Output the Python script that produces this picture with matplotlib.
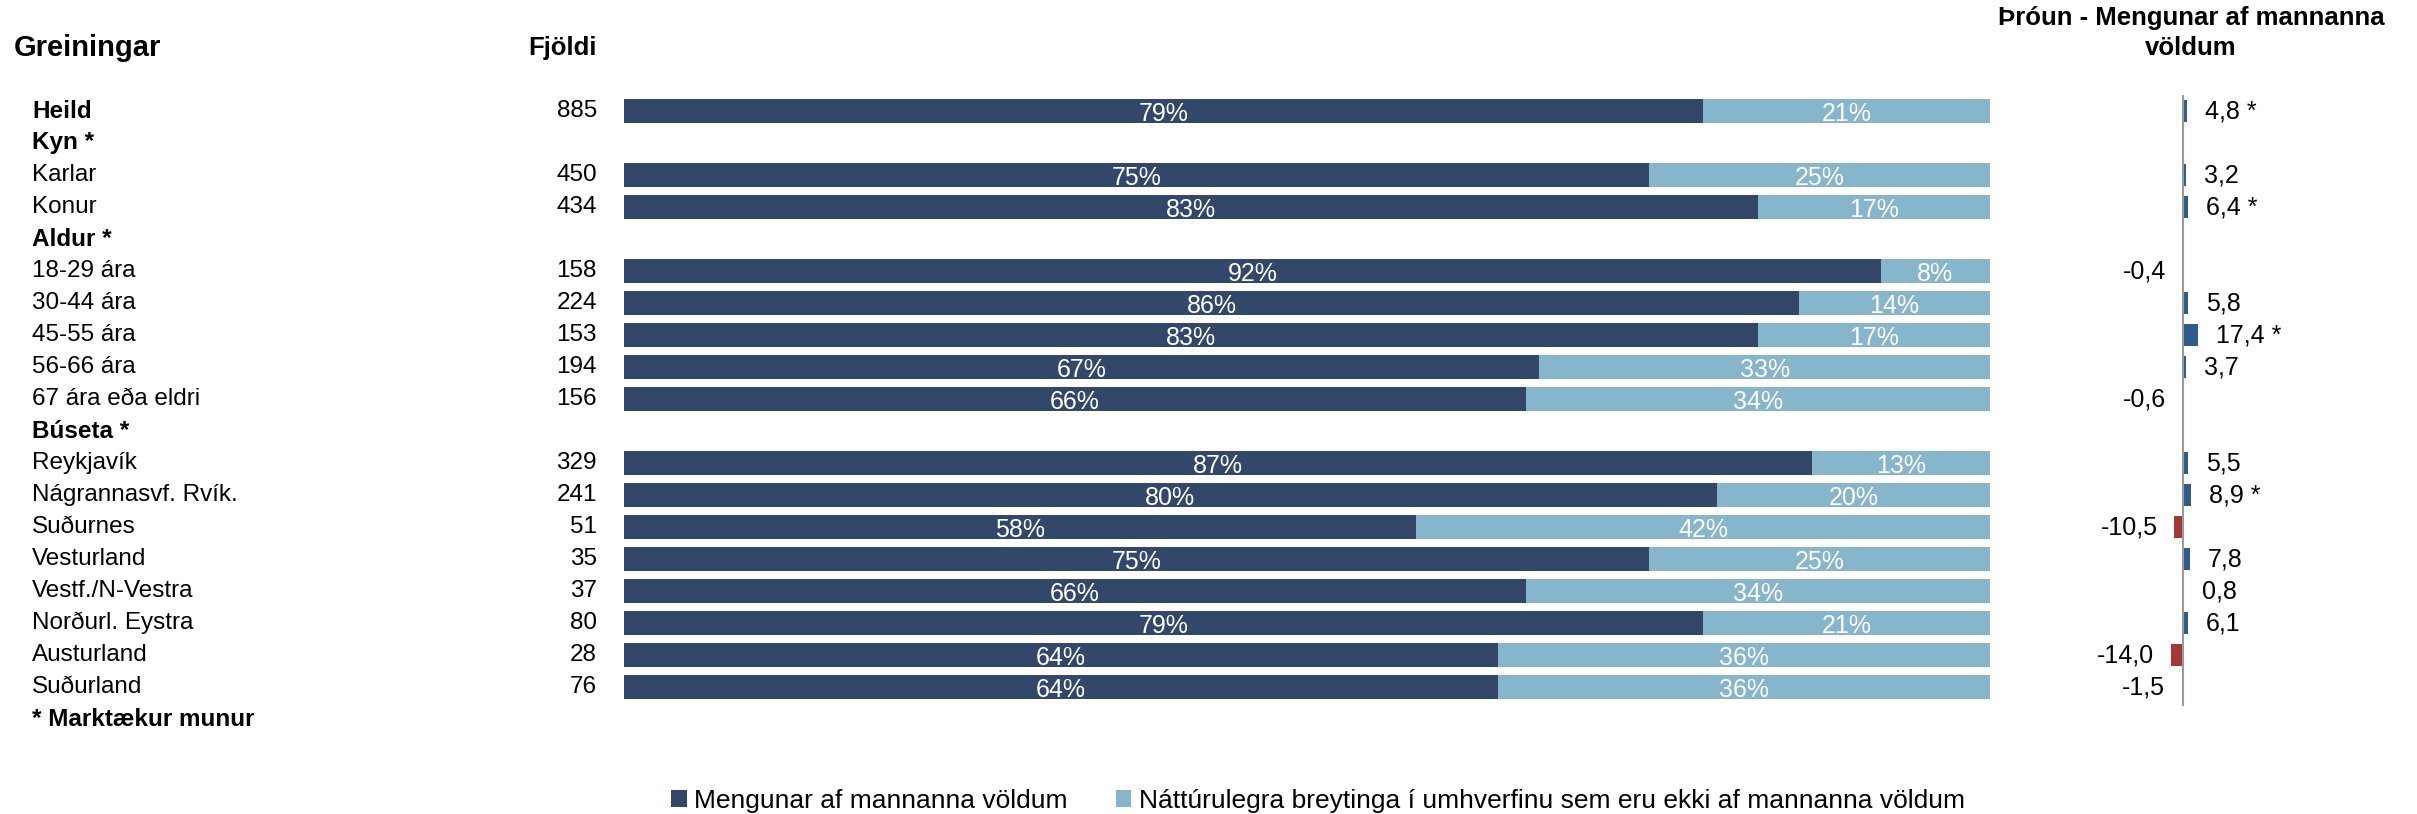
import numpy as np
import matplotlib.pyplot as plt
from matplotlib.transforms import blended_transform_factory

# Data
labels = ["Heild", "Kyn *", "Karlar", "Konur", "Aldur *", "18-29 ára", "30-44 ára",
          "45-55 ára", "56-66 ára", "67 ára eða eldri", "Búseta *", "Reykjavík",
          "Nágrannasvf. Rvík.", "Suðurnes", "Vesturland", "Vestf./N-Vestra",
          "Norðurl. Eystra", "Austurland", "Suðurland"]
headers = ["Heild", "Kyn *", "Aldur *", "Búseta *"]
fjoldi = [885, None, 450, 434, None, 158, 224, 153, 194, 156, None,
          329, 241, 51, 35, 37, 80, 28, 76]
mengun = [79, None, 75, 83, None, 92, 86, 83, 67, 66, None,
          87, 80, 58, 75, 66, 79, 64, 64]
natturu = [21, None, 25, 17, None, 8, 14, 17, 33, 34, None,
           13, 20, 42, 25, 34, 21, 36, 36]
throun = [4.8, None, 3.2, 6.4, None, -0.4, 5.8, 17.4, 3.7, -0.6, None,
          5.5, 8.9, -10.5, 7.8, 0.8, 6.1, -14.0, -1.5]
marktaekt = [True, None, False, True, None, False, False, True, False, False, None,
             False, True, False, False, False, False, False, False]

series_names = ["Mengunar af mannanna völdum",
                "Náttúrulegra breytinga í umhverfinu sem eru ekki af mannanna völdum"]

dark = "#33476a"
light = "#87b5cc"
pos_col = "#2f5b8c"
neg_col = "#a33838"

plt.rcParams["font.family"] = ["Liberation Sans", "DejaVu Sans"]

W, H = 2417, 814
fig = plt.figure(figsize=(W / 100, H / 100), dpi=100)

# row r sits at pixel 111 + 32 r ; axes cover rows -0.5 .. 19.5
top_px, bot_px = 95, 735
ax_b = (1 - bot_px / H)
ax_h = (bot_px - top_px) / H

ax = fig.add_axes([624 / W, ax_b, 1366 / W, ax_h])
ax.set_xlim(0, 100)
ax.set_ylim(19.5, -0.5)
ax.axis("off")

rows = np.arange(len(labels))
idx = [i for i in rows if mengun[i] is not None]
m_vals = np.array([mengun[i] for i in idx])
n_vals = np.array([natturu[i] for i in idx])

b1 = ax.barh(idx, m_vals, height=0.75, color=dark, label=series_names[0])
b2 = ax.barh(idx, n_vals, left=m_vals, height=0.75, color=light, label=series_names[1])
for i, m, n in zip(idx, m_vals, n_vals):
    ax.text(m / 2, i + 0.1, f"{m}%", color="white", ha="center", va="center", fontsize=18)
    ax.text(m + n / 2, i + 0.1, f"{n}%", color="white", ha="center", va="center", fontsize=18)

# left side labels
tr = blended_transform_factory(fig.transFigure, ax.transData)
for i, lab in enumerate(labels):
    bold = lab in headers
    ax.text(32 / W, i, lab, transform=tr, ha="left", va="center", fontsize=17.5,
            fontweight="bold" if bold else "normal", clip_on=False)
    if fjoldi[i] is not None:
        ax.text(597 / W, i, str(fjoldi[i]), transform=tr, ha="right", va="center",
                fontsize=17.5, clip_on=False)
ax.text(32 / W, len(labels), "* Marktækur munur", transform=tr, ha="left", va="center",
        fontsize=17.5, fontweight="bold", clip_on=False)

fig.text(14 / W, 1 - 48 / H, "Greiningar", ha="left", va="center", fontsize=21,
         fontweight="bold")
fig.text(597 / W, 1 - 48 / H, "Fjöldi", ha="right", va="center", fontsize=18.5,
         fontweight="bold")

# trend panel: zero at x=2183 px, ~0.85 px per unit
scale = 0.85
x0, x1 = 2100, 2300
ax2 = fig.add_axes([x0 / W, ax_b, (x1 - x0) / W, ax_h])
ax2.set_xlim((x0 - 2183) / scale, (x1 - 2183) / scale)
ax2.set_ylim(19.5, -0.5)
ax2.axis("off")
t_idx = [i for i in rows if throun[i] is not None]
t_vals = np.array([throun[i] for i in t_idx])
ax2.barh(t_idx, t_vals, height=0.7, color=[pos_col if v >= 0 else neg_col for v in t_vals])
ax2.vlines(0, -0.6, 18.6, color="#9a9a9a", lw=1.5)
for i, v in zip(t_idx, t_vals):
    txt = f"{v:.1f}".replace(".", ",")
    if marktaekt[i]:
        txt += " *"
    if v >= 0:
        ax2.annotate(txt, (v, i), xytext=(13, 0), textcoords="offset points",
                     ha="left", va="center", fontsize=18)
    else:
        ax2.annotate(txt, (v, i), xytext=(-12, 0), textcoords="offset points",
                     ha="right", va="center", fontsize=18)

fig.text(2191 / W, 1 - 33 / H, "Þróun - Mengunar af mannanna\nvöldum", ha="center",
         va="center", fontsize=18.5, fontweight="bold", linespacing=1.3)

fig.legend(handles=[b1, b2], loc="center", bbox_to_anchor=(1318 / W, 1 - 801 / H),
           ncol=2, frameon=False, handlelength=0.6, handleheight=0.6, handletextpad=0.3,
           columnspacing=1.8, prop={"size": 19})

fig.savefig("out.png", dpi=100)
